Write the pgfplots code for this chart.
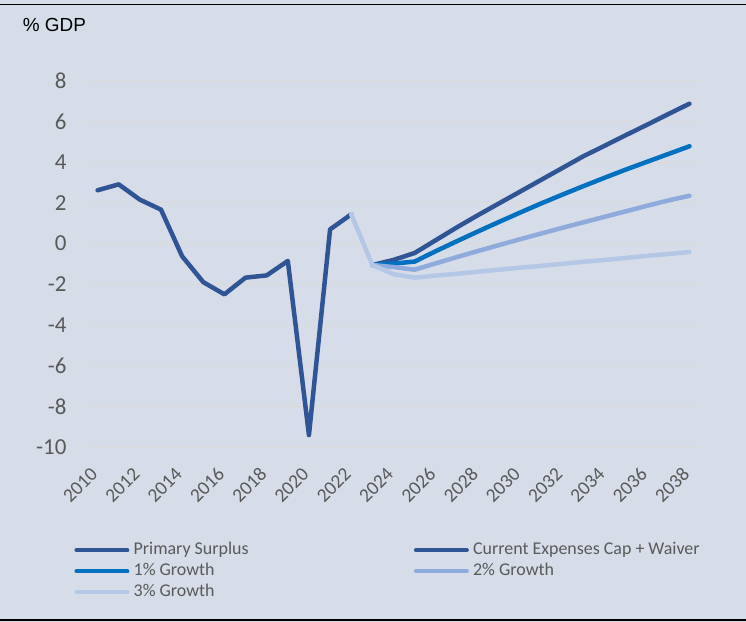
\documentclass[border=0pt]{standalone}
\usepackage{pgfplots}
\pgfplotsset{compat=1.18}
\usepackage{fontspec}
\setmainfont{Carlito}
\newfontfamily\arialf{Liberation Sans}
\definecolor{bgc}{HTML}{D6DDE8}
\definecolor{gridc}{HTML}{DCDAD4}
\definecolor{darkb}{HTML}{2F5597}
\definecolor{midb}{HTML}{0070C0}
\definecolor{lightb}{HTML}{8FAADC}
\definecolor{paleb}{HTML}{B4C7E7}
\definecolor{txtg}{HTML}{595959}
\begin{document}
\begin{tikzpicture}
\useasboundingbox (0,0) rectangle (746bp,622bp);
\fill[bgc] (0,0) rectangle (746bp,622bp);
\draw[black, line width=1.5bp] (0,617.5bp) -- (746bp,617.5bp);
\draw[black, line width=1.5bp] (0,2bp) -- (746bp,2bp);
\node[anchor=base west, inner sep=0pt] at (22.7bp,590.3bp) {\arialf\fontsize{19}{19}\selectfont \% GDP};
\begin{axis}[
  at={(87bp,174.7bp)}, anchor=south west,
  width=613bp, height=366.6bp, scale only axis,
  xmin=2009.5, xmax=2038.5, ymin=-10, ymax=8,
  xtick={2010,2012,...,2038}, ytick={-10,-8,...,8},
  axis line style={draw=none}, major tick length=0pt,
  ymajorgrids, grid style={gridc, line width=1bp},
  /pgf/number format/1000 sep={},
  /pgf/number format/assume math mode=true,
  yticklabel style={font=\fontsize{23}{23}\selectfont, text=txtg, xshift=-17bp},
  xticklabel style={font=\fontsize{19.5}{19.5}\selectfont, text=txtg, xshift=-1bp, yshift=-21bp, rotate=45, anchor=east},
  legend columns=2,
  legend cell align=left,
  legend style={at={(-0.0245,-0.2515)}, anchor=north west, draw=none, fill=none, inner sep=0pt,
    font=\fontsize{18}{18}\selectfont, text=txtg,
    nodes={text height=13bp, text depth=4bp, inner sep=2bp},
    /tikz/every odd column/.append style={column sep=0pt},
    /tikz/every even column/.append style={column sep=161bp}},
  legend image code/.code={\path (0,0) (55bp,0); \draw[#1, line width=4bp, line cap=round] (2bp,0bp) -- (53bp,0bp);},
  every axis plot/.append style={line width=4.5bp, line join=round, line cap=round},
]
\addplot[darkb] coordinates {
(2010,2.62) (2011,2.91) (2012,2.16) (2013,1.67) (2014,-0.62) (2015,-1.89) (2016,-2.49)
(2017,-1.67) (2018,-1.56) (2019,-0.85) (2020,-9.40) (2021,0.70) (2022,1.44)};
\addlegendentry{Primary Surplus}
\addplot[darkb] coordinates {
(2023,-1.05) (2024,-0.80) (2025,-0.46) (2026,0.17) (2027,0.80) (2028,1.40) (2029,1.98)
(2030,2.56) (2031,3.14) (2032,3.72) (2033,4.30) (2034,4.81) (2035,5.33) (2036,5.84)
(2037,6.36) (2038,6.87)};
\addlegendentry{Current Expenses Cap + Waiver}
\addplot[midb] coordinates {
(2023,-1.05) (2024,-0.98) (2025,-0.88) (2026,-0.37) (2027,0.12) (2028,0.60) (2029,1.07)
(2030,1.53) (2031,1.98) (2032,2.41) (2033,2.83) (2034,3.24) (2035,3.64) (2036,4.02)
(2037,4.40) (2038,4.78)};
\addlegendentry{1\% Growth}
\addplot[lightb] coordinates {
(2023,-1.05) (2024,-1.15) (2025,-1.28) (2026,-0.97) (2027,-0.66) (2028,-0.36) (2029,-0.07)
(2030,0.22) (2031,0.50) (2032,0.78) (2033,1.05) (2034,1.32) (2035,1.59) (2036,1.86)
(2037,2.12) (2038,2.35)};
\addlegendentry{2\% Growth}
\addplot[paleb] coordinates {
(2022,1.44) (2023,-1.05) (2024,-1.50) (2025,-1.67) (2026,-1.57) (2027,-1.48) (2028,-1.38)
(2029,-1.28) (2030,-1.18) (2031,-1.09) (2032,-0.99) (2033,-0.89) (2034,-0.80) (2035,-0.70)
(2036,-0.60) (2037,-0.51) (2038,-0.41)};
\addlegendentry{3\% Growth}
\end{axis}
\end{tikzpicture}
\end{document}
